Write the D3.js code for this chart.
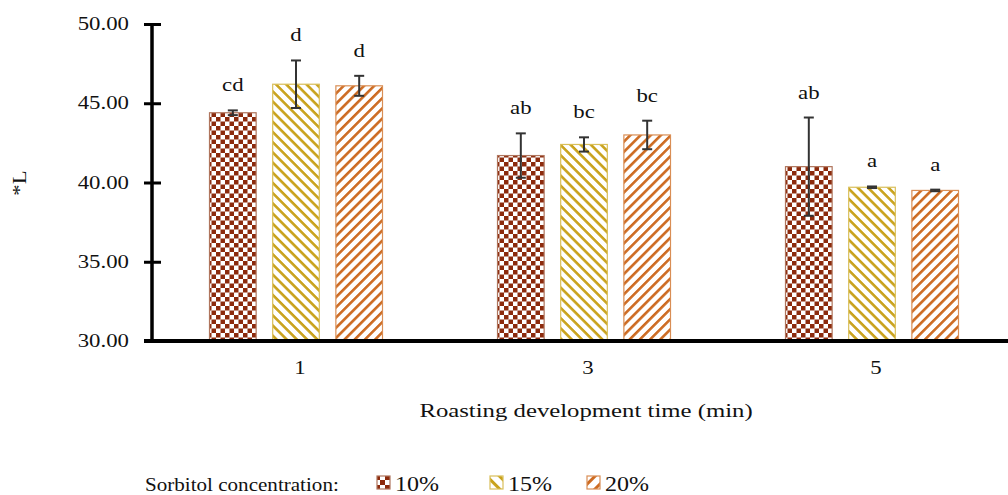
<!DOCTYPE html>
<html><head><meta charset="utf-8">
<script src="https://cdn.jsdelivr.net/npm/d3@7"></script>
<style>body{margin:0;background:#fff}svg{display:block}text{font-family:"Liberation Serif","Times New Roman",serif;fill:#111}</style>
</head><body>
<script>
const categories = ["1", "3", "5"];
const series = ["10%", "15%", "20%"];
const values10 = [44.4, 41.7, 41.0];
const values15 = [46.2, 42.4, 39.7];
const values20 = [46.1, 43.0, 39.5];
const err10 = [0.15, 1.4, 3.1];
const err15 = [1.5, 0.45, 0.05];
const err20 = [0.63, 0.9, 0.05];
const letters10 = ["cd", "ab", "ab"];
const letters15 = ["d", "bc", "a"];
const letters20 = ["d", "bc", "a"];
const yTicks = [30, 35, 40, 45, 50];
const yTitle = "*L";
const xTitle = "Roasting development time (min)";
const legendTitle = "Sorbitol concentration:";

const W = 1008, H = 495;
const svg = d3.select("body").append("svg").attr("width", W).attr("height", H);
const defs = svg.append("defs");

const colors = {"10%": "#8c2a0c", "15%": "#c9a21c", "20%": "#cd6b22"};
const borders = {"10%": "#b0765e", "15%": "#d9bf5a", "20%": "#d98e55"};

// patterns
function checker(id, size) {
  const p = defs.append("pattern").attr("id", id).attr("patternUnits", "userSpaceOnUse")
    .attr("width", size * 2).attr("height", size * 2);
  p.append("rect").attr("width", size * 2).attr("height", size * 2).attr("fill", "#fff");
  p.append("rect").attr("x", 0).attr("y", 0).attr("width", size).attr("height", size).attr("fill", colors["10%"]);
  p.append("rect").attr("x", size).attr("y", size).attr("width", size).attr("height", size).attr("fill", colors["10%"]);
}
function stripes(id, color, angle, period, sw) {
  const p = defs.append("pattern").attr("id", id).attr("patternUnits", "userSpaceOnUse")
    .attr("width", period).attr("height", period).attr("patternTransform", `rotate(${angle})`);
  p.append("rect").attr("width", period).attr("height", period).attr("fill", "#fff");
  p.append("rect").attr("x", 0).attr("y", 0).attr("width", period).attr("height", sw).attr("fill", color);
}
checker("p10", 4.5);
stripes("p15", colors["15%"], 45, 7.2, 2.6);
stripes("p20", colors["20%"], -45, 7.2, 2.6);
checker("p10L", 5);
stripes("p15L", colors["15%"], 45, 9, 3);
stripes("p20L", colors["20%"], -45, 9, 3);
const fills = {"10%": "url(#p10)", "15%": "url(#p15)", "20%": "url(#p20)"};
const fillsL = {"10%": "url(#p10L)", "15%": "url(#p15L)", "20%": "url(#p20L)"};

function stext(g, x, y, str, size, anchor, sx) {
  return g.append("text").attr("transform", `translate(${x},${y}) scale(${sx || 1.2},1)`)
    .attr("font-size", size).attr("text-anchor", anchor || "start").text(str);
}

const y = d3.scaleLinear().domain([30, 50]).range([341, 24]);
const x0 = d3.scaleBand().domain(categories).range([152, 1016]).padding(0);
const x1 = d3.scaleBand().domain(series).range([-86.5, 86.5]).paddingInner(0.262);

const rows = [];
categories.forEach((c, i) => {
  const vals = [values10[i], values15[i], values20[i]];
  const errs = [err10[i], err15[i], err20[i]];
  const lets = [letters10[i], letters15[i], letters20[i]];
  series.forEach((s, j) => rows.push({c, s, v: vals[j], e: errs[j], l: lets[j]}));
});

const cx = d => x0(d.c) + x0.bandwidth() / 2;

// bars
svg.append("g").selectAll("rect").data(rows).join("rect")
  .attr("x", d => cx(d) + x1(d.s))
  .attr("y", d => y(d.v))
  .attr("width", x1.bandwidth())
  .attr("height", d => y(30) - y(d.v))
  .attr("fill", d => fills[d.s])
  .attr("stroke", d => borders[d.s]).attr("stroke-width", 1.2);

// error bars
const eg = svg.append("g").attr("stroke", "#333").attr("stroke-width", 2);
rows.forEach(d => {
  const bx = cx(d) + x1(d.s) + x1.bandwidth() / 2;
  eg.append("line").attr("x1", bx).attr("x2", bx).attr("y1", y(d.v + d.e)).attr("y2", y(d.v - d.e));
  eg.append("line").attr("x1", bx - 5).attr("x2", bx + 5).attr("y1", y(d.v + d.e)).attr("y2", y(d.v + d.e));
  eg.append("line").attr("x1", bx - 5).attr("x2", bx + 5).attr("y1", y(d.v - d.e)).attr("y2", y(d.v - d.e));
});

// letters
const lg = svg.append("g");
rows.forEach(d => {
  const bx = cx(d) + x1(d.s) + x1.bandwidth() / 2;
  stext(lg, bx, y(d.v + d.e) - 19, d.l, 19, "middle");
});

// y axis
const yAxis = d3.axisLeft(y).tickValues(yTicks).tickSize(8).tickFormat(d3.format(".2f"));
const ya = svg.append("g").attr("transform", "translate(152,0)").call(yAxis);
ya.select(".domain").attr("stroke", "#000").attr("stroke-width", 3.5).attr("d", `M0,${y(50)}V${y(30)}`);
ya.selectAll(".tick line").attr("x1", 9).attr("x2", -8).attr("stroke", "#000").attr("stroke-width", 3);
ya.selectAll(".tick text").remove();
yTicks.forEach(t => stext(svg, 129, y(t) + 6, d3.format(".2f")(t), 19, "end"));

// x axis
const xAxis = d3.axisBottom(x0).tickSize(0);
const xa = svg.append("g").attr("transform", "translate(0,341)").call(xAxis);
xa.select(".domain").attr("stroke", "#000").attr("stroke-width", 4).attr("d", "M144,0H1008");
xa.selectAll(".tick text").remove();
categories.forEach(c => stext(svg, x0(c) + x0.bandwidth() / 2 + 4, 374, c, 19, "middle"));

// titles
stext(svg, 586, 417, xTitle, 19.5, "middle", 1.27);
svg.append("text").attr("transform", "translate(26,183) rotate(-90) scale(1.2,1)").attr("font-size", 19)
  .attr("text-anchor", "middle").text(yTitle);

// legend
const leg = svg.append("g");
stext(leg, 145, 491, legendTitle, 19, "start", 1.11);
const legX = [377, 490, 587];
series.forEach((s, i) => {
  leg.append("rect").attr("x", legX[i]).attr("y", 476).attr("width", 13).attr("height", 13)
    .attr("fill", fillsL[s]).attr("stroke", borders[s]).attr("stroke-width", 1.2);
  stext(leg, legX[i] + 18, 491, s, 20, "start", 1.2);
});
</script>
</body></html>
